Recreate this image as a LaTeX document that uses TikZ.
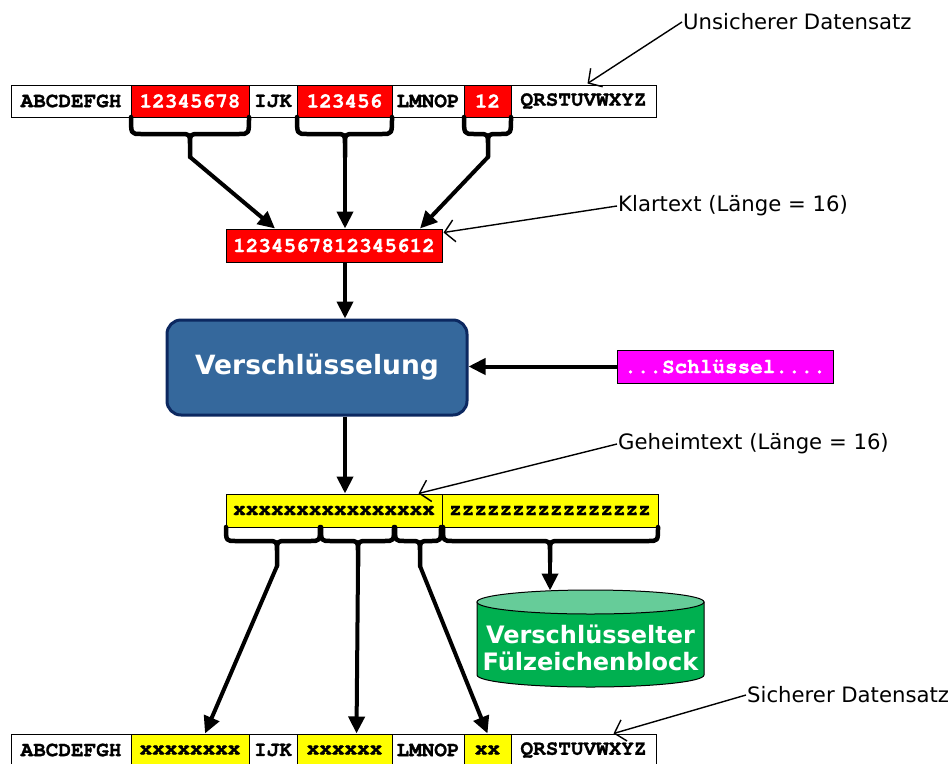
\documentclass[tikz,border=0pt]{standalone}
\usepackage{fontspec}
\setmainfont{DejaVu Sans}
\setmonofont{TeX Gyre Cursor}[BoldFeatures={FakeBold=1.2}]
\usetikzlibrary{arrows.meta,calc}
\definecolor{cred}{HTML}{FF0000}
\definecolor{cyel}{HTML}{FFFF00}
\definecolor{cmag}{HTML}{FF00FF}
\definecolor{cblue}{HTML}{35689C}
\definecolor{cnavy}{HTML}{0C2860}
\definecolor{cgreen}{HTML}{00B050}
\definecolor{clgreen}{HTML}{66CC99}
\newcommand{\mybrace}[6]{%
  \draw[bracestyle] (#1,#4) .. controls (#1,#5) .. (#1+10,#5) -- (#3-10,#5) .. controls (#3,#5) .. (#3,#5+10) -- (#3,#6)
    (#2,#4) .. controls (#2,#5) .. (#2-10,#5) -- (#3+10,#5) .. controls (#3,#5) .. (#3,#5+10);}
\begin{document}
\begin{tikzpicture}[x=1pt,y=-1pt,
  cell/.style={draw=black, line width=1pt, minimum height=32pt, inner sep=0pt,
    font=\fontsize{21}{24}\selectfont\ttfamily\bfseries},
  redcell/.style={cell, fill=cred, text=white},
  yelcell/.style={cell, fill=cyel, text=black},
  whitecell/.style={cell, fill=white, text=black},
  bigarrow/.style={line width=4pt, -{Triangle[length=17pt,width=16pt]}},
  bracestyle/.style={line width=4.5pt, line cap=round, line join=round},
  note/.style={font=\fontsize{21.2}{24}\selectfont, anchor=west, inner sep=1pt},
  notearrow/.style={line width=1.4pt, -{Straight Barb[length=10pt,width=22pt,line width=1.4pt]}},
]
\useasboundingbox (0,0) rectangle (952,763);

% top row
\node[whitecell, minimum width=120pt] (t1) at (71,101) {ABCDEFGH};
\node[redcell, minimum width=118pt] (t2) at (190,101) {12345678};
\node[whitecell, minimum width=48pt] (t3) at (273,101) {IJK};
\node[redcell, minimum width=95pt] (t4) at (344.5,101) {123456};
\node[whitecell, minimum width=72pt] (t5) at (428,101) {LMNOP};
\node[redcell, minimum width=47pt] (t6) at (487.5,101) {12};
\node[whitecell, minimum width=145pt] (t7) at (583.5,101) {QRSTUVWXYZ};

% braces top
\mybrace{131}{249}{190}{117}{134}{157}
\mybrace{297}{392}{345}{117}{134}{157}
\mybrace{464}{511}{488}{117}{134}{157}
\coordinate (ta) at (190,157);
\coordinate (tb) at (345,157);
\coordinate (tc) at (488,157);

% Klartext
\node[redcell, minimum width=216pt, minimum height=33pt] (klar) at (334,245.5) {1234567812345612};
\coordinate (cx) at (345,0);

\draw[bigarrow] (ta) -- ($(klar.north)+(-59,0)$);
\draw[bigarrow] (tb) -- (klar.north -| cx);
\draw[bigarrow] (tc) -- ($(klar.north)+(86,0)$);

% encryption
\node[draw=cnavy, line width=3pt, fill=cblue, rounded corners=14pt, minimum width=300pt,
  minimum height=95pt, text=white, font=\fontsize{26.5}{30}\selectfont\bfseries] (enc) at (317,367.5) {Verschlüsselung};
\node[cell, fill=cmag, text=white, minimum width=216pt, minimum height=33pt] (key) at (725,366.5) {...Schlüssel....};

\draw[bigarrow] (klar.south -| cx) -- (enc.north -| cx);
\draw[bigarrow] (key.west) -- (key.west -| enc.east);

% cipher bar
\node[yelcell, minimum width=216pt, minimum height=33pt] (xb) at (334,510.5) {xxxxxxxxxxxxxxxx};
\node[yelcell, minimum width=216pt, minimum height=33pt] (zb) at (550,510.5) {zzzzzzzzzzzzzzzz};
\draw[bigarrow] (enc.south -| cx) -- (xb.north -| cx);

% braces bottom
\mybrace{226}{320}{277}{527}{541}{566}
\mybrace{321}{394}{358}{527}{541}{566}
\mybrace{395}{441}{420}{527}{541}{566}
\mybrace{443}{658}{550}{527}{541}{562}
\coordinate (ya) at (277,566);
\coordinate (yb) at (358,566);
\coordinate (yc) at (420,566);
\coordinate (yd) at (550,562);

% cylinder
\fill[cgreen, draw=black, line width=1pt] (477,602) -- (477,675) arc[start angle=180, end angle=0, x radius=113.5, y radius=12] -- (704,602) -- cycle;
\filldraw[fill=clgreen, draw=black, line width=1pt] (590.5,602) ellipse [x radius=113.5, y radius=12];
\coordinate (cyltop) at (550,590.5);
\node[text=white, font=\fontsize{24}{27}\selectfont\bfseries, align=center, inner sep=0pt] (cyl) at (590.5,648) {Verschlüsselter\\Fülzeichenblock};
\draw[bigarrow] (yd) -- (cyltop);

% bottom row
\node[whitecell, minimum width=120pt] (b1) at (71,750) {ABCDEFGH};
\node[yelcell, minimum width=118pt] (b2) at (190,750) {xxxxxxxx};
\node[whitecell, minimum width=48pt] (b3) at (273,750) {IJK};
\node[yelcell, minimum width=95pt] (b4) at (344.5,750) {xxxxxx};
\node[whitecell, minimum width=72pt] (b5) at (428,750) {LMNOP};
\node[yelcell, minimum width=47pt] (b6) at (487.5,750) {xx};
\node[whitecell, minimum width=145pt] (b7) at (583.5,750) {QRSTUVWXYZ};

\draw[bigarrow] (ya) -- ($(b2.north)+(15,0)$);
\draw[bigarrow] (yb) -- ($(b4.north)+(12,0)$);
\draw[bigarrow] (yc) -- (b6.north);

% annotations
\node[note] (n1) at (682,22) {Unsicherer Datensatz};
\node[note] (n2) at (617,206) {Klartext (Länge = 16)};
\node[note] (n3) at (617,444) {Geheimtext (Länge = 16)};
\node[note] (n4) at (746,695) {Sicherer Datensatz};
\draw[notearrow] (n1.west) -- ($(t7.north)+(4,-1)$);
\draw[notearrow] (n2.west) -- ($(klar.north east)+(1,4)$);
\draw[notearrow] (n3.west) -- ($(xb.north east)+(-24,0)$);
\draw[notearrow] (n4.west) -- ($(b7.north)+(30,0)$);
\end{tikzpicture}
\end{document}
